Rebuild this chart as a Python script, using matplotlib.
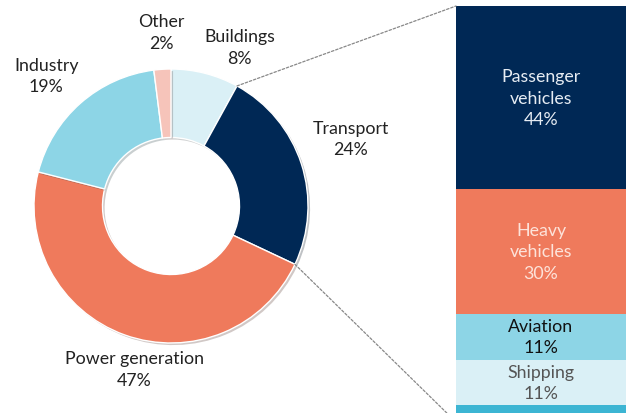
import matplotlib.pyplot as plt
import matplotlib.patheffects as pe
from matplotlib.patches import ConnectionPatch
import numpy as np

plt.rcParams['font.family'] = ['Lato', 'DejaVu Sans']

# Donut data (clockwise from the top)
sectors = ['Buildings', 'Transport', 'Power generation', 'Industry', 'Other']
shares = [8, 24, 47, 19, 2]
sector_colors = ['#daf0f6', '#002855', '#ef7a5c', '#8dd5e6', '#f6c4ba']
# label anchors in donut units (radius 1 = outer edge)
label_pos = [(0.50, 1.16), (1.31, 0.49), (-0.27, -1.19), (-0.91, 0.95), (-0.07, 1.27)]

# Transport breakdown (top to bottom)
modes = ['Passenger\nvehicles', 'Heavy\nvehicles', 'Aviation', 'Shipping', '']
mode_shares = [44, 30, 11, 11, 4]
mode_colors = ['#002855', '#ef7a5c', '#8dd5e6', '#daf0f6', '#3cb5d3']
mode_text = ['#e6ecf3', '#fde3da', '#111111', '#555555', '#ffffff']

W, H = 627, 414
FS = 12.8
LS = 1.4
fig = plt.figure(figsize=(W / 100, H / 100), dpi=100)

# donut: centre at (171, 207) px, radius 137 px
cx, cy, r_px, half = 171, 207, 137, 150
ax = fig.add_axes([(cx - half) / W, (H - cy - half) / H, 2 * half / W, 2 * half / H])

wedges, _ = ax.pie(shares, colors=sector_colors, startangle=90, counterclock=False,
                   radius=1, wedgeprops=dict(width=0.5, edgecolor='white', linewidth=1))
for w in wedges:
    w.set_path_effects([pe.SimplePatchShadow(offset=(1.5, -1.5), alpha=0.25), pe.Normal()])

lim = half / r_px
ax.set_xlim(-lim, lim)
ax.set_ylim(-lim, lim)
ax.set_aspect('equal')
ax.axis('off')

for name, val, (lx, ly) in zip(sectors, shares, label_pos):
    ax.text(lx, ly, f'{name}\n{val}%', ha='center', va='center', fontsize=FS,
            color='#222222', linespacing=LS)

# stacked bar: x 456..626 px, y 7..423 px (runs past the bottom)
bx = fig.add_axes([456 / W, (H - 423) / H, 170 / W, 416 / H])
bottoms = np.concatenate([[0], np.cumsum(mode_shares)[:-1]])
bx.bar(0, mode_shares, bottom=bottoms, width=1, color=mode_colors, linewidth=0)
bx.set_xlim(-0.5, 0.5)
bx.set_ylim(100, 0)
bx.axis('off')
for name, val, b, tc in zip(modes, mode_shares, bottoms, mode_text):
    if name:
        bx.text(0, b + val / 2, f'{name}\n{val}%', ha='center', va='center',
                fontsize=FS, color=tc, linespacing=LS)

# dashed connectors from the Transport wedge to the bar
a1 = np.deg2rad(90 - shares[0] * 3.6)
a2 = np.deg2rad(90 - (shares[0] + shares[1]) * 3.6)
for ang, yb in [(a1, 0), (a2, 100)]:
    con = ConnectionPatch(xyA=(np.cos(ang), np.sin(ang)), coordsA=ax.transData,
                          xyB=(-0.5, yb), coordsB=bx.transData,
                          color='#888888', linestyle=(0, (2, 1.5)), linewidth=0.9)
    fig.add_artist(con)

fig.savefig('out.png', dpi=100)
